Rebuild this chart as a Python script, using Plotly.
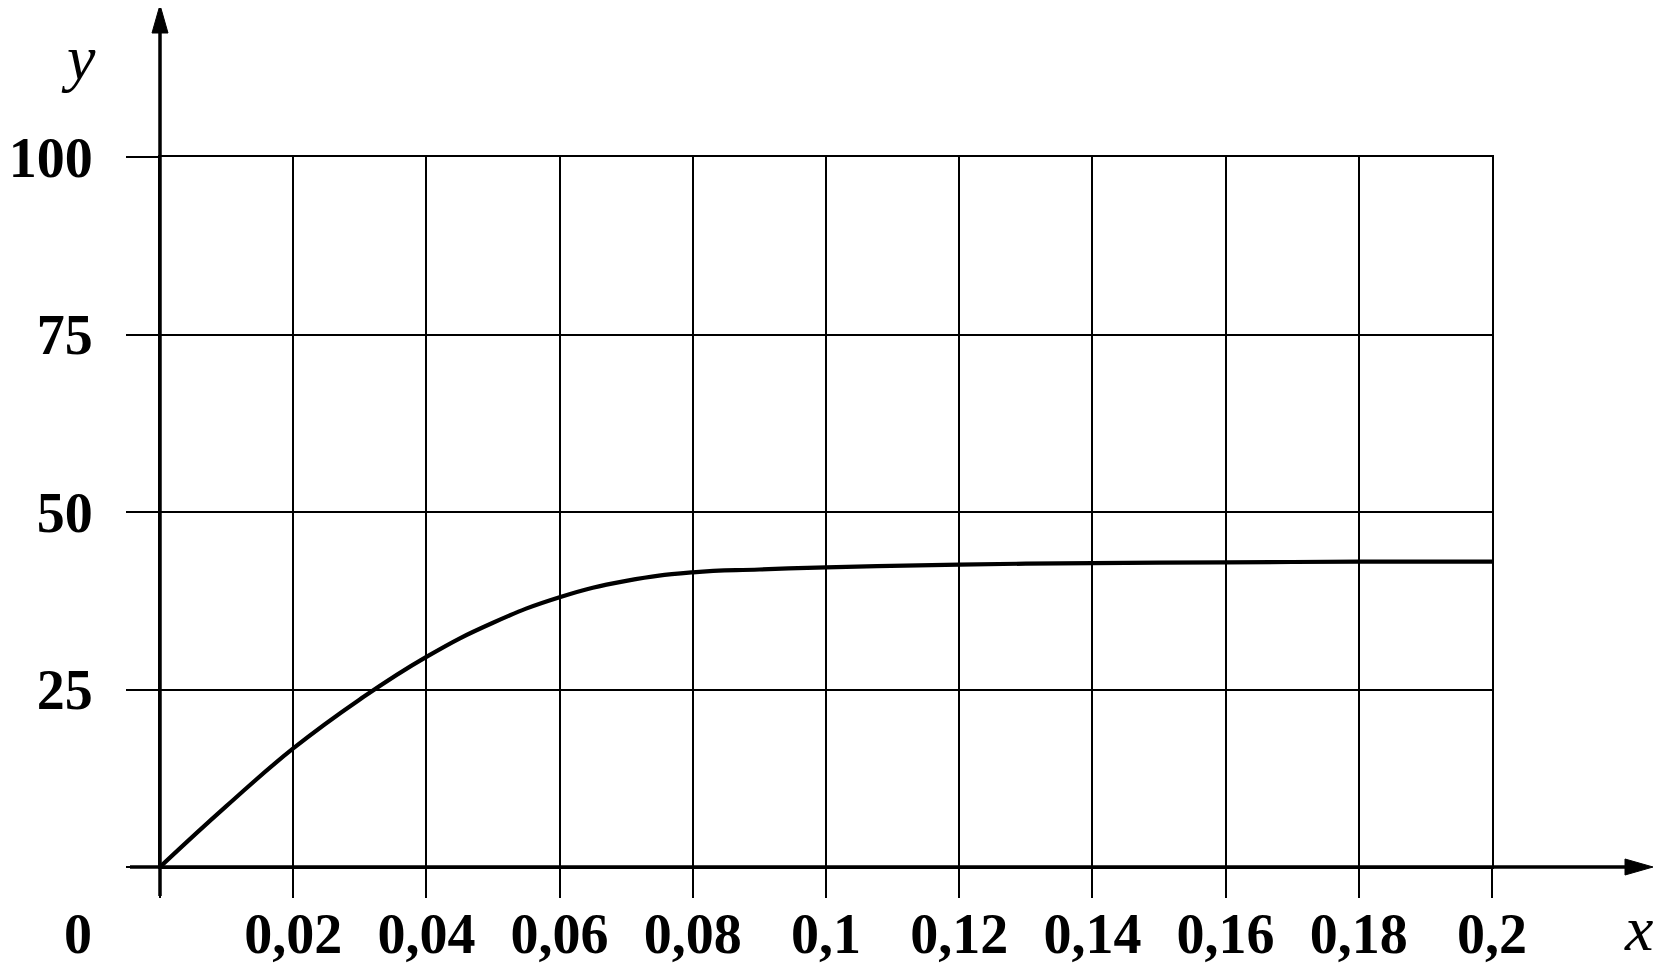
import plotly.graph_objects as go

# data
x_vals = [0, 0.01, 0.02, 0.03, 0.04, 0.05, 0.06, 0.07, 0.08, 0.09, 0.10, 0.12, 0.14, 0.16, 0.18, 0.20]
y_vals = [0, 8.6, 16.7, 23.6, 29.6, 34.4, 38.0, 40.3, 41.5, 41.9, 42.2, 42.6, 42.8, 42.9, 43.0, 43.0]

x_ticks = [0, 0.02, 0.04, 0.06, 0.08, 0.10, 0.12, 0.14, 0.16, 0.18, 0.20]
x_labels = ["", "0,02", "0,04", "0,06", "0,08", "0,1", "0,12", "0,14", "0,16", "0,18", "0,2"]
y_ticks = [0, 25, 50, 75, 100]
y_labels = ["", "25", "50", "75", "100"]

# page has an 8px body margin: the figure starts at (8, 8)
OFF = 8
W, H = 1662 - OFF, 967 - OFF
L, T = 160 - OFF, 157 - OFF
R = W - (1492 - OFF)
B = H - (867 - OFF)
PW, PH = W - L - R, H - T - B

X_RANGE = [0, 0.2]
Y_RANGE = [0, 100]

label_font = dict(family="Liberation Serif", size=56, color="black", weight="bold")
ital_font = dict(family="Liberation Serif", size=64, color="black", style="italic")

fig = go.Figure()
fig.add_trace(go.Scatter(
    x=x_vals, y=y_vals, mode="lines",
    line=dict(color="black", width=4.2, shape="spline", smoothing=1.3),
    hoverinfo="skip", showlegend=False,
))
# same data on the label axis (draws nothing, only carries the tick labels)
fig.add_trace(go.Scatter(
    x=x_vals, y=y_vals, mode="none", xaxis="x2", yaxis="y",
    hoverinfo="skip", showlegend=False,
))

fig.update_layout(
    xaxis=dict(
        range=X_RANGE, tickmode="array", tickvals=x_ticks, showticklabels=False,
        showgrid=True, gridcolor="black", gridwidth=2.3,
        ticks="outside", ticklen=29, tickwidth=2.3, tickcolor="black",
        showline=True, mirror=True, linecolor="black", linewidth=2.3,
        zeroline=False, fixedrange=True,
    ),
    xaxis2=dict(
        range=X_RANGE, overlaying="x", anchor="y", side="bottom",
        tickmode="array", tickvals=x_ticks, ticktext=x_labels, tickfont=label_font,
        showgrid=False, ticks="", ticklen=0, ticklabelstandoff=29,
        zeroline=False, showline=False, fixedrange=True,
    ),
    yaxis=dict(
        range=Y_RANGE, tickmode="array", tickvals=y_ticks, ticktext=y_labels, tickfont=label_font,
        showgrid=True, gridcolor="black", gridwidth=2.3,
        ticks="outside", ticklen=32, tickwidth=2.3, tickcolor="black",
        showline=True, mirror=True, linecolor="black", linewidth=2.3,
        ticklabelstandoff=22, zeroline=False, fixedrange=True,
    ),
)


def px(xp):
    """page pixel x -> paper coordinate"""
    return (xp - OFF - L) / PW


def py(yp):
    """page pixel y -> paper coordinate"""
    return (H - B - (yp - OFF)) / PH


# axis lines with arrowheads
ax_line = dict(color="black", width=3.5)
fig.add_shape(type="line", xref="paper", yref="paper", x0=0, x1=0, y0=py(896), y1=py(32),
              line=ax_line, layer="above")
fig.add_shape(type="path", xref="paper", yref="paper",
              path=f"M {px(152)} {py(33)} L {px(168)} {py(33)} L {px(160)} {py(5)} Z",
              fillcolor="black", line=dict(color="black", width=1), layer="above")
fig.add_shape(type="line", xref="paper", yref="paper", x0=px(130), x1=px(1627), y0=0, y1=0,
              line=ax_line, layer="above")
fig.add_shape(type="path", xref="paper", yref="paper",
              path=f"M {px(1625)} {py(859)} L {px(1625)} {py(875)} L {px(1653)} {py(867)} Z",
              fillcolor="black", line=dict(color="black", width=1), layer="above")

fig.add_annotation(text="0", x=px(78), y=py(934), xref="paper", yref="paper",
                   showarrow=False, font=label_font, xanchor="center", yanchor="middle")
fig.add_annotation(text="x", x=px(1638), y=py(928), xref="paper", yref="paper",
                   showarrow=False, font=ital_font, xanchor="center", yanchor="middle")
fig.add_annotation(text="y", x=px(78), y=py(58), xref="paper", yref="paper",
                   showarrow=False, font=ital_font, xanchor="center", yanchor="middle")

fig.update_layout(
    width=W, height=H,
    margin=dict(l=L, r=R, t=T, b=B, autoexpand=False),
    paper_bgcolor="white", plot_bgcolor="white",
    showlegend=False,
)

fig.write_html("out.html")
